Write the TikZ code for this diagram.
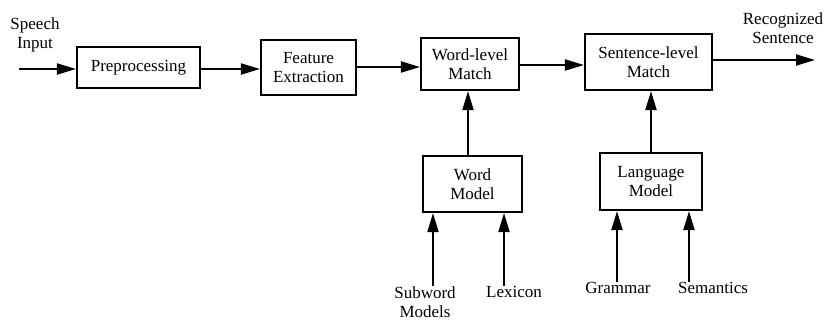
\documentclass[tikz,border=0pt]{standalone}
\usepackage{fontspec}
\setmainfont{Liberation Serif}
\usetikzlibrary{arrows.meta}
\begin{document}
\begin{tikzpicture}[x=1pt,y=-1pt,
  box/.style={draw,line width=2.2pt,inner sep=0pt,align=center,font=\fontsize{17}{19}\selectfont},
  lbl/.style={align=center,inner sep=0pt,font=\fontsize{17}{19}\selectfont},
  arr/.style={line width=2pt,-{Triangle[length=19pt,width=11pt]}}]
\useasboundingbox (0,0) rectangle (828,322);
\node[box,minimum width=123pt,minimum height=41pt] (pre) at (138.5,67.5) {Preprocessing};
\node[box,minimum width=95pt,minimum height=55pt] (fe) at (308.5,67.5) {Feature\\Extraction};
\node[box,minimum width=98pt,minimum height=52pt] (wlm) at (470,64) {Word-level\\Match};
\node[box,minimum width=127pt,minimum height=56pt] (slm) at (648.5,62) {Sentence-level\\Match};
\node[box,minimum width=99pt,minimum height=56pt] (wm) at (472.5,184) {Word\\Model};
\node[box,minimum width=102pt,minimum height=57pt] (lm) at (651,181.5) {Language\\Model};
\node[lbl] (si) at (35,35) {Speech\\Input};
\node[lbl] (rs) at (783,28) {Recognized\\Sentence};
\node[lbl,anchor=north] (sw) at (425,286) {Subword\\Models};
\node[lbl,anchor=north] (lx) at (514,286) {Lexicon};
\node[lbl,anchor=north] (gr) at (618,282) {Grammar};
\node[lbl,anchor=north] (se) at (713,282) {Semantics};
\coordinate (sin) at (19,69);
\coordinate (rout) at (815,60);
\draw[arr] (sin) -- (sin -| pre.west);
\draw[arr] (pre.east |- 0,69) -- (fe.west |- 0,69);
\draw[arr] (fe.east |- 0,67) -- (wlm.west |- 0,67);
\draw[arr] (wlm.east |- 0,65) -- (slm.west |- 0,65);
\draw[arr] (slm.east |- rout) -- (rout);
\draw[arr] (wm.north -| 468,0) -- (wlm.south -| 468,0);
\draw[arr] (lm.north -| 651,0) -- (slm.south -| 651,0);
\draw[arr] (sw.north -| 433,0) -- (wm.south -| 433,0);
\draw[arr] (lx.north -| 504,0) -- (wm.south -| 504,0);
\draw[arr] (gr.north -| 617,0) -- (lm.south -| 617,0);
\draw[arr] (se.north -| 689,0) -- (lm.south -| 689,0);
\end{tikzpicture}
\end{document}
